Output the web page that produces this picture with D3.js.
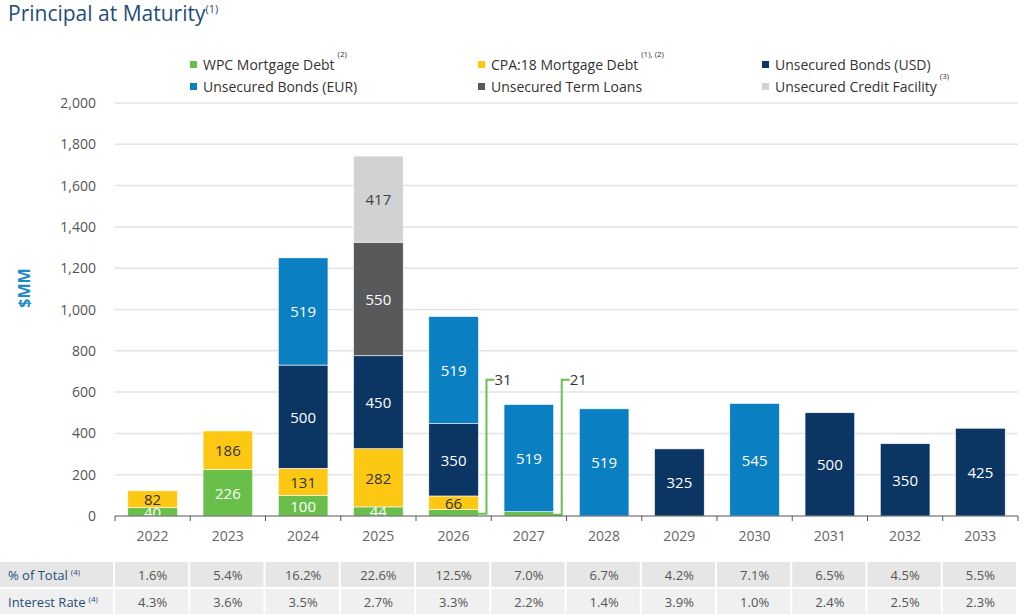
<!DOCTYPE html><html><head><meta charset="utf-8">
<script src="https://cdn.jsdelivr.net/npm/d3@7"></script>
<style>body{margin:0;background:#fff;font-family:"Open Sans",Lato,sans-serif}</style></head><body>
<svg id="c" width="1027" height="616"></svg>
<script>
const years=["2022","2023","2024","2025","2026","2027","2028","2029","2030","2031","2032","2033"];
const wpc=[40,226,100,44,31,21,0,0,0,0,0,0];
const cpa=[82,186,131,282,66,0,0,0,0,0,0,0];
const usd=[0,0,500,450,350,0,0,325,0,500,350,425];
const eur=[0,0,519,0,519,519,519,0,545,0,0,0];
const term=[0,0,0,550,0,0,0,0,0,0,0,0];
const credit=[0,0,0,417,0,0,0,0,0,0,0,0];
const pctTotal=["1.6%","5.4%","16.2%","22.6%","12.5%","7.0%","6.7%","4.2%","7.1%","6.5%","4.5%","5.5%"];
const rates=["4.3%","3.6%","3.5%","2.7%","3.3%","2.2%","1.4%","3.9%","1.0%","2.4%","2.5%","2.3%"];
const yTicks=[0,200,400,600,800,1000,1200,1400,1600,1800,2000];
const series=[
 {name:"WPC Mortgage Debt",sup:"(2)",vals:wpc,color:"#6abf4b",txt:"#fff"},
 {name:"CPA:18 Mortgage Debt",sup:"(1), (2)",vals:cpa,color:"#fcc814",txt:"#333"},
 {name:"Unsecured Bonds (USD)",sup:"",vals:usd,color:"#0b3563",txt:"#fff"},
 {name:"Unsecured Bonds (EUR)",sup:"",vals:eur,color:"#0a7fc2",txt:"#fff"},
 {name:"Unsecured Term Loans",sup:"",vals:term,color:"#58595b",txt:"#fff"},
 {name:"Unsecured Credit Facility",sup:"(3)",vals:credit,color:"#d1d2d4",txt:"#444"}];
const svg=d3.select("#c");
const x=d3.scaleBand().domain(years).range([115,1018]).paddingInner(0.34).paddingOuter(0.17);
const y=d3.scaleLinear().domain([0,2000]).range([516,103]);
// title
const t=svg.append("text").attr("x",8).attr("y",21).attr("fill","#1f4e79").attr("font-size",21).text("Principal at Maturity");
t.append("tspan").attr("font-size",11).attr("dy",-8).text("(1)");
// grid
svg.append("g").selectAll("line").data(yTicks.slice(1)).join("line")
 .attr("x1",115).attr("x2",1018).attr("y1",d=>y(d)).attr("y2",d=>y(d)).attr("stroke","#e3e3e3").attr("stroke-width",1.5);
svg.append("g").selectAll("text").data(yTicks).join("text")
 .attr("x",96).attr("y",d=>y(d)+5).attr("text-anchor","end").attr("font-size",14).attr("fill","#555")
 .text(d=>d3.format(",")(d));
svg.append("text").attr("transform","translate(30,288) rotate(-90)").attr("text-anchor","middle")
 .attr("font-size",16).attr("font-weight","bold").attr("fill","#1a8bc9").text("$MM");
// bars
const stack=years.map((yr,i)=>{let b=0;return series.map(s=>{const o={yr,s,v:s.vals[i],y0:b,y1:b+s.vals[i]};b+=s.vals[i];return o;});}).flat().filter(d=>d.v>0);
svg.append("g").selectAll("rect").data(stack).join("rect")
 .attr("x",d=>x(d.yr)).attr("width",x.bandwidth()).attr("y",d=>y(d.y1)).attr("height",d=>y(d.y0)-y(d.y1))
 .attr("fill",d=>d.s.color).attr("stroke","#fff").attr("stroke-width",0.6);
svg.append("g").selectAll("text").data(stack.filter(d=>!(d.s===series[0]&&(d.yr==="2026"||d.yr==="2027")))).join("text")
 .attr("x",d=>x(d.yr)+x.bandwidth()/2).attr("y",d=>(y(d.y0)+y(d.y1))/2+6).attr("text-anchor","middle")
 .attr("font-size",15).attr("fill",d=>d.s.txt).text(d=>d.v);
// callouts
["2026","2027"].forEach(yr=>{const i=years.indexOf(yr);const v=wpc[i];
 const xr=x(yr)+x.bandwidth(),yb=y(v/2),xl=xr+8,yt=y(660);
 svg.append("path").attr("d",`M${x(yr)+x.bandwidth()-2},${yb+1}H${xl}V${yt}H${xl+8}`).attr("fill","none").attr("stroke","#6abf4b").attr("stroke-width",2);
 svg.append("text").attr("x",xl+8).attr("y",yt+5).attr("font-size",15).attr("fill","#333").text(v);});
// x axis
svg.append("line").attr("x1",115).attr("x2",1018).attr("y1",516).attr("y2",516).attr("stroke","#555");
svg.append("g").selectAll("line").data(d3.range(13)).join("line")
 .attr("x1",d=>115+d*x.step()).attr("x2",d=>115+d*x.step()).attr("y1",516).attr("y2",521).attr("stroke","#555");
svg.append("g").selectAll("text").data(years).join("text")
 .attr("x",d=>x(d)+x.bandwidth()/2).attr("y",541).attr("text-anchor","middle").attr("font-size",14).attr("fill","#666").text(d=>d);
// legend
const lg=[[196,70],[484,70],[768,70],[196,92],[484,92],[768,92]];
series.forEach((s,i)=>{const [lx,ly]=lg[i];
 svg.append("rect").attr("x",lx-6).attr("y",ly-9).attr("width",7).attr("height",7).attr("fill",s.color);
 const tx=svg.append("text").attr("x",lx+7).attr("y",ly).attr("font-size",14).attr("fill","#333").text(s.name);
 if(s.sup) tx.append("tspan").attr("font-size",8).attr("dx",3).attr("dy",-13).text(s.sup);});
// table
const rows=[["% of Total","(4)",pctTotal,"#e6e6e6",562],["Interest Rate","(4)",rates,"#f0f0f0",589]];
rows.forEach(([lab,sup,vals,bg,ry])=>{
 svg.append("rect").attr("x",0).attr("y",ry).attr("width",113).attr("height",25).attr("fill",bg);
 const tt=svg.append("text").attr("x",8).attr("y",ry+18).attr("font-size",13).attr("fill","#1f4e79").text(lab);
 tt.append("tspan").attr("font-size",8).attr("dx",3).attr("dy",-5).text(sup);
 svg.append("g").selectAll("rect").data(years).join("rect").attr("x",(d,i)=>115+i*x.step()).attr("y",ry)
  .attr("width",x.step()-2).attr("height",25).attr("fill",bg);
 svg.append("g").selectAll("text").data(vals).join("text").attr("x",(d,i)=>115+(i+0.5)*x.step()).attr("y",ry+18)
  .attr("text-anchor","middle").attr("font-size",13).attr("fill","#555").text(d=>d);});
</script></body></html>
